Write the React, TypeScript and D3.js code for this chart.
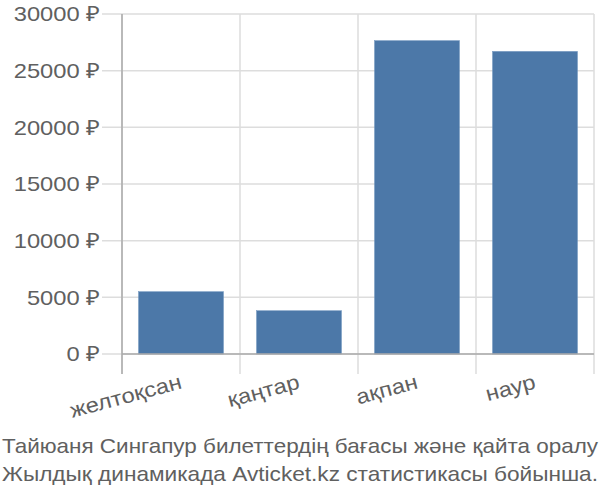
import * as d3 from "d3";

const WIDTH = 600;
const HEIGHT = 500;
const MARGIN = { top: 14, right: 6, bottom: 146, left: 122 };
const STRETCH = 1.13; // reference glyphs are a bit wider than they are tall

const months = ["желтоқсан", "қаңтар", "ақпан", "наур"];
const prices = [5500, 3820, 27650, 26700];
const yTicks = [0, 5000, 10000, 15000, 20000, 25000, 30000];
const caption = [
  "Тайюаня Сингапур билеттердің бағасы және қайта оралу",
  "Жылдық динамикада Avticket.kz статистикасы бойынша.",
];

const App = () => {
  const boundsWidth = WIDTH - MARGIN.left - MARGIN.right;
  const boundsHeight = HEIGHT - MARGIN.top - MARGIN.bottom;

  const xScale = d3.scaleBand().domain(months).range([0, boundsWidth]).paddingInner(0.28).paddingOuter(0.14);
  const yScale = d3.scaleLinear().domain([0, 30000]).range([boundsHeight, 0]);

  const step = xScale.step();
  const gridX = d3.range(months.length + 1).map((i) => i * (boundsWidth / months.length));

  return (
    <div style={{ position: "absolute", left: 0, top: 0 }}>
      <svg width={WIDTH} height={HEIGHT} style={{ display: "block", fontFamily: "'Liberation Sans', Arial, sans-serif" }}>
        <g transform={`translate(${MARGIN.left},${MARGIN.top})`}>
          {/* horizontal grid + tick labels */}
          {yTicks.map((t) => (
            <g key={t}>
              <line x1={-20} x2={boundsWidth} y1={yScale(t)} y2={yScale(t)} stroke="#dddddd" strokeWidth={1.5} />
              <text
                transform={`translate(-22,${yScale(t)}) scale(${STRETCH},1)`}
                dy="0.35em"
                textAnchor="end"
                fontSize={21}
                fill="#606060"
              >
                {`${t} ₽`}
              </text>
            </g>
          ))}
          {/* vertical grid */}
          {gridX.map((x, i) => (
            <line key={i} x1={x} x2={x} y1={0} y2={boundsHeight + 20} stroke="#dddddd" strokeWidth={1.5} />
          ))}
          {/* bars */}
          {months.map((m, i) => (
            <rect
              key={m}
              x={xScale(m)}
              y={yScale(prices[i])}
              width={xScale.bandwidth()}
              height={boundsHeight - yScale(prices[i])}
              fill="#4c78a8"
              stroke="#6f93bd"
              strokeWidth={0.5}
            />
          ))}
          {/* axes */}
          <line x1={0} x2={0} y1={0} y2={boundsHeight + 20} stroke="#aaaaaa" strokeWidth={1.5} />
          <line x1={0} x2={boundsWidth} y1={boundsHeight} y2={boundsHeight} stroke="#aaaaaa" strokeWidth={1.5} />
          {/* x labels */}
          {months.map((m, i) => {
            const cx = i * step + step / 2 - 2;
            return (
              <text
                key={m}
                transform={`translate(${cx},${boundsHeight + 20}) rotate(-15) scale(${STRETCH},1)`}
                textAnchor="end"
                dy="0.7em"
                fontSize={21}
                fill="#606060"
              >
                {m}
              </text>
            );
          })}
        </g>
        {caption.map((line, i) => (
          <text
            key={i}
            x={2}
            y={452.5 + i * 28.5}
            fontSize={21}
            fill="#606060"
            textLength={596}
            lengthAdjust="spacingAndGlyphs"
          >
            {line}
          </text>
        ))}
      </svg>
    </div>
  );
};

export default App;
